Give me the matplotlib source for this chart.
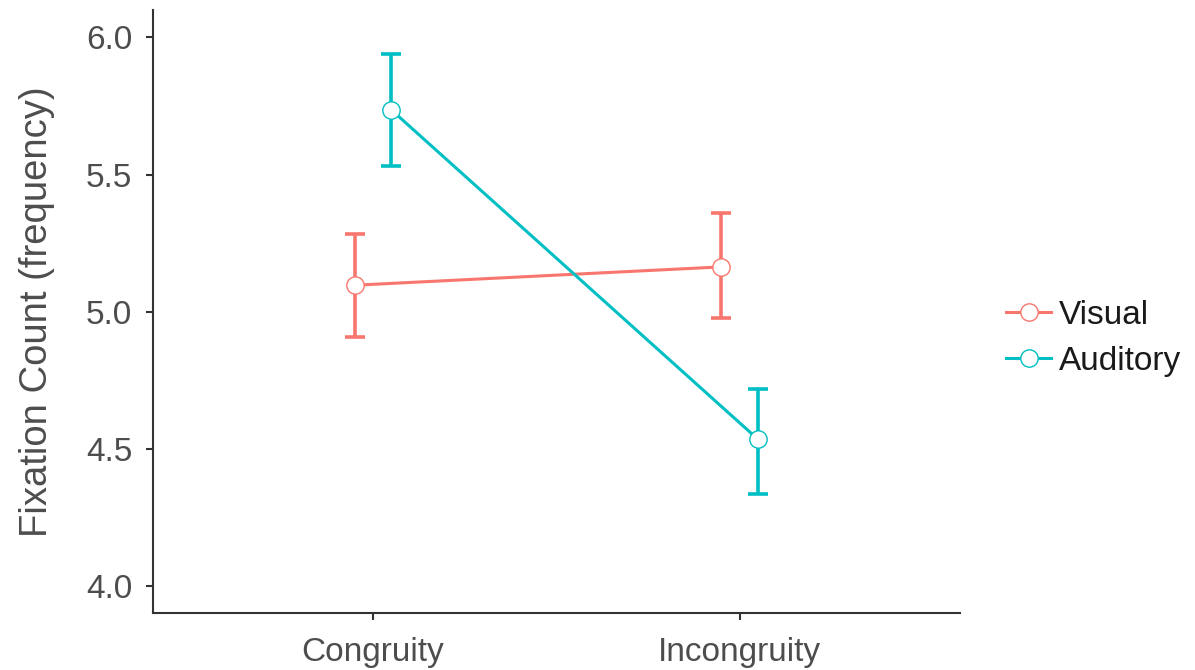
import matplotlib
matplotlib.use("Agg")
import matplotlib.pyplot as plt
from matplotlib.lines import Line2D

plt.rcParams['font.family'] = ['Liberation Sans', 'DejaVu Sans']

categories = ["Congruity", "Incongruity"]
groups = ["Visual", "Auditory"]
visual_mean = [5.096, 5.163]
visual_low = [4.908, 4.975]
visual_high = [5.284, 5.360]
auditory_mean = [5.736, 4.534]
auditory_low = [5.532, 4.334]
auditory_high = [5.940, 4.717]
yticks = [4.0, 4.5, 5.0, 5.5, 6.0]
ylabel = "Fixation Count (frequency)"

colors = {"Visual": "#F8766D", "Auditory": "#00BFC4"}
dodge = {"Visual": -0.05, "Auditory": 0.05}
series = {
    "Visual": (visual_mean, visual_low, visual_high),
    "Auditory": (auditory_mean, auditory_low, auditory_high),
}

fig = plt.figure(figsize=(11.95, 6.7), dpi=100)
ax = fig.add_axes([0.128, 0.085, 0.675, 0.9])

xbase = [1, 2]
for g in groups:
    m, lo, hi = series[g]
    xs = [x + dodge[g] for x in xbase]
    yerr = [[mm - l for mm, l in zip(m, lo)], [h - mm for mm, h in zip(m, hi)]]
    ax.errorbar(xs, m, yerr=yerr, fmt='none', ecolor=colors[g], elinewidth=2.6,
                capsize=7, capthick=2.6, zorder=2)
    ax.plot(xs, m, color=colors[g], lw=2.2, zorder=3)
    ax.plot(xs, m, 'o', ms=12.5, mfc='white', mec=colors[g], mew=1.0, zorder=4)

ax.set_xlim(0.4, 2.6)
ax.set_ylim(3.9, 6.1)
ax.set_xticks(xbase)
ax.set_xticklabels(categories)
ax.set_yticks(yticks)
ax.set_yticklabels([f"{t:.1f}" for t in yticks])
ax.set_ylabel(ylabel, fontsize=27.5, color='#4d4d4d', labelpad=22)

for s in ['top', 'right']:
    ax.spines[s].set_visible(False)
for s in ['left', 'bottom']:
    ax.spines[s].set_color('#333333')
    ax.spines[s].set_linewidth(1.5)
ax.tick_params(axis='both', colors='#333333', length=5, width=1.5,
               labelsize=24, labelcolor='#4d4d4d')
ax.tick_params(axis='y', pad=10)
ax.tick_params(axis='x', pad=12)

handles = [Line2D([0], [0], color=colors[g], lw=2.2, marker='o', ms=12.5,
                  mfc='white', mec=colors[g], mew=1.0) for g in groups]
fig.legend(handles, groups, loc='center left', bbox_to_anchor=(0.817, 0.495),
           frameon=False, fontsize=24, handlelength=1.35, handletextpad=0.22,
           labelspacing=0.45, labelcolor='#1a1a1a')

fig.savefig("out.png", dpi=100)
